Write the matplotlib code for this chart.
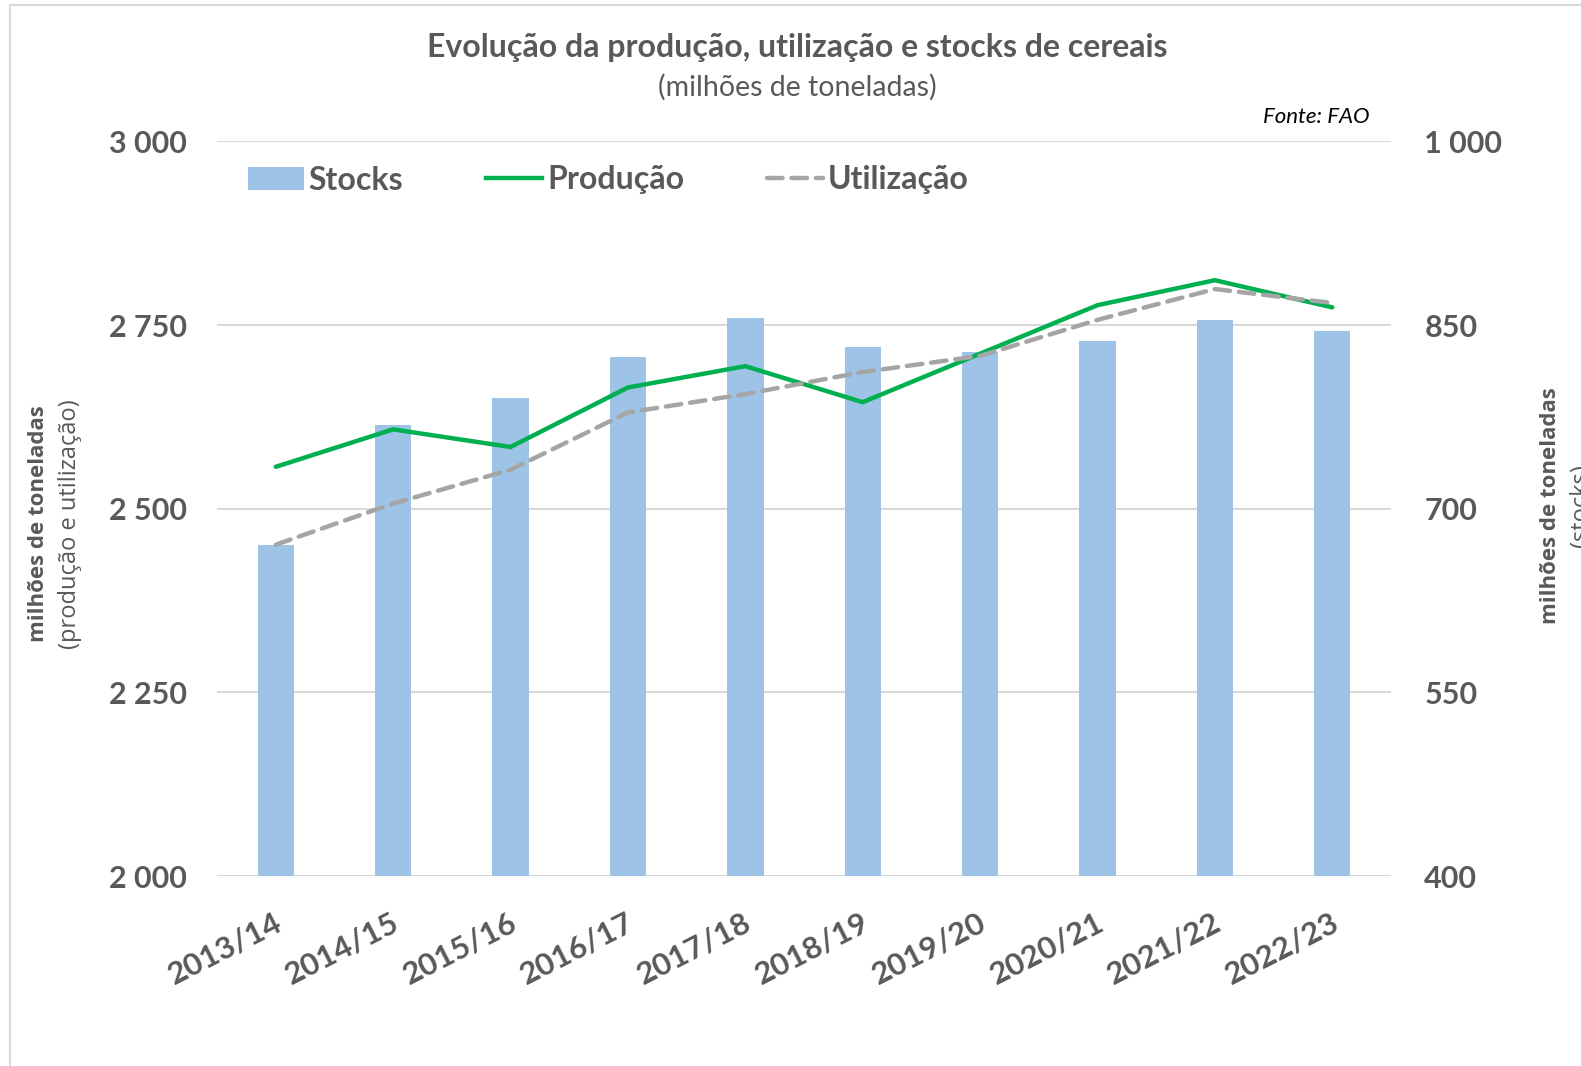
import matplotlib
matplotlib.use("Agg")
import matplotlib.pyplot as plt
import matplotlib.transforms as mtransforms
from matplotlib.patches import Rectangle, Patch
from matplotlib.lines import Line2D
from matplotlib.ticker import FuncFormatter

# Data (milhões de toneladas)
campanhas = ['2013/14', '2014/15', '2015/16', '2016/17', '2017/18',
             '2018/19', '2019/20', '2020/21', '2021/22', '2022/23']
stocks = [670, 768, 790, 824, 856, 832, 828, 837, 854, 845]
producao = [2557, 2608, 2584, 2665, 2694, 2645, 2711, 2777, 2811, 2774]
utilizacao = [2451, 2507, 2553, 2631, 2656, 2686, 2708, 2757, 2799, 2780]

left_ticks = [2000, 2250, 2500, 2750, 3000]
right_ticks = [400, 550, 700, 850, 1000]

TXT = '#595959'
GRID = '#d9d9d9'
BAR = '#9dc3e6'
GREEN = '#00b050'
GREY = '#a5a5a5'
FONT = 'Lato'

plt.rcParams['font.family'] = [FONT, 'DejaVu Sans']


def fmt_thousands(value, _pos):
    return f'{int(round(value)):,}'.replace(',', ' ')


fig = plt.figure(figsize=(15.81, 10.66), dpi=100)
ax = fig.add_axes([0.1373, 0.1782, 0.8798 - 0.1373, 0.8674 - 0.1782])
ax2 = ax.twinx()
ax.set_zorder(ax2.get_zorder() + 1)
ax.patch.set_visible(False)

x = list(range(len(campanhas)))

# Stocks (right axis)
ax2.bar(x, stocks, width=0.31, color=BAR, zorder=2)
ax2.set_ylim(400, 1000)
ax2.set_yticks(right_ticks)
ax2.yaxis.set_major_formatter(FuncFormatter(fmt_thousands))
ax2.grid(axis='y', color=GRID, linewidth=1.5, zorder=0)
ax2.set_axisbelow(True)

# Produção / Utilização (left axis)
ax.plot(x, producao, color=GREEN, linewidth=3.2, solid_capstyle='round',
        solid_joinstyle='miter', zorder=3)
ax.plot(x, utilizacao, color=GREY, linewidth=3.2, linestyle=(0, (3.5, 2)),
        dash_capstyle='round', zorder=3)
ax.set_ylim(2000, 3000)
ax.set_yticks(left_ticks)
ax.yaxis.set_major_formatter(FuncFormatter(fmt_thousands))
ax.set_xlim(-0.5, len(campanhas) - 0.5)
ax.set_xticks(x)
ax.set_xticklabels(campanhas)

for a in (ax, ax2):
    for s in a.spines.values():
        s.set_visible(False)
    a.tick_params(length=0)

ax.tick_params(axis='y', pad=22, labelsize=22, labelcolor=TXT)
ax2.tick_params(axis='y', pad=24, labelsize=22, labelcolor=TXT)
for lab in ax.get_yticklabels() + ax2.get_yticklabels():
    lab.set_fontweight('bold')

offset = mtransforms.ScaledTranslation(-2 / 100, 0, fig.dpi_scale_trans)
ax.tick_params(axis='x', pad=23, labelsize=22.5, labelcolor=TXT)
for lab in ax.get_xticklabels():
    lab.set_fontweight('bold')
    lab.set_rotation(27)
    lab.set_ha('right')
    lab.set_va('top')
    lab.set_rotation_mode('anchor')
    lab.set_transform(lab.get_transform() + offset)

# Legend
handles = [
    Patch(facecolor=BAR, edgecolor='none'),
    Line2D([], [], color=GREEN, linewidth=3.2),
    Line2D([], [], color=GREY, linewidth=3.2, linestyle=(0, (3.5, 2)),
           dash_capstyle='round'),
]
leg = fig.legend(handles, ['Stocks', 'Produção', 'Utilização'],
                 loc='center left', bbox_to_anchor=(248 / 1581, 1 - 180 / 1066),
                 ncol=3, frameon=False, borderpad=0, borderaxespad=0,
                 handlelength=1.75, handleheight=0.7, handletextpad=0.15,
                 columnspacing=2.6,
                 prop={'family': FONT, 'weight': 'bold', 'size': 23})
for t in leg.get_texts():
    t.set_color(TXT)

# Titles
fig.text(0.5045, 1 - 47 / 1066, 'Evolução da produção, utilização e stocks de cereais',
         ha='center', va='center', fontsize=23, fontweight='bold', color=TXT)
fig.text(0.5045, 1 - 87 / 1066, '(milhões de toneladas)',
         ha='center', va='center', fontsize=20.5, color=TXT)
fig.text(1370 / 1581, 1 - 117 / 1066, 'Fonte: FAO', ha='right', va='center',
         fontsize=16, style='italic', color='black')

# Axis labels
fig.text(39 / 1581, 1 - 524 / 1066, 'milhões de toneladas', rotation=90,
         ha='center', va='center', fontsize=16, fontweight='bold',
         color=TXT, family='Open Sans')
fig.text(70 / 1581, 1 - 524 / 1066, '(produção e utilização)', rotation=90,
         ha='center', va='center', fontsize=17, color=TXT, family='Open Sans')
fig.text(1551 / 1581, 1 - 506 / 1066, 'milhões de toneladas', rotation=90,
         ha='center', va='center', fontsize=16, fontweight='bold',
         color=TXT, family='Open Sans')
fig.text(1581 / 1581, 1 - 506 / 1066, '(stocks)', rotation=90,
         ha='center', va='center', fontsize=17, color=TXT, family='Open Sans')

# Chart frame
fig.patches.append(Rectangle((10 / 1581, -0.1), 1.2, 1.1 - 5 / 1066,
                             transform=fig.transFigure, fill=False,
                             edgecolor=GRID, linewidth=1.5))

fig.savefig('out.png', dpi=100)
